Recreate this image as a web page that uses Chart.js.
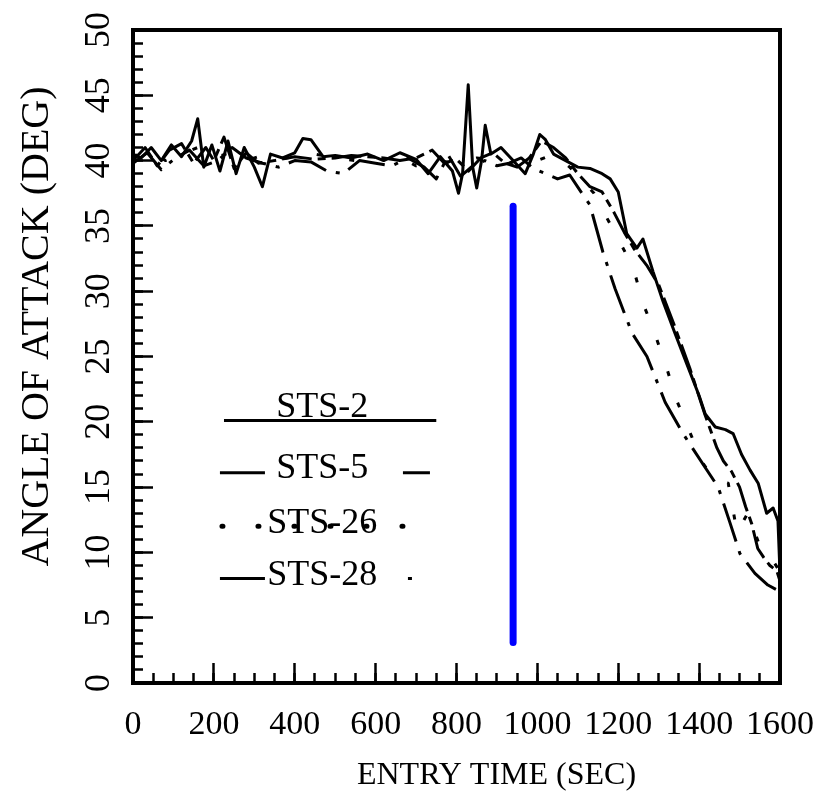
<!DOCTYPE html>
<html>
<head>
<meta charset="utf-8">
<title>Angle of attack vs entry time</title>
<script src="https://cdn.jsdelivr.net/npm/chart.js@4.4.1/dist/chart.umd.min.js"></script>
<style>
  html, body { margin: 0; padding: 0; background: #fff; }
  canvas { display: block; }
</style>
</head>
<body>
<canvas id="aoaChart" width="835" height="811"></canvas>
<script>
const seriesNames = ["STS-2", "STS-5", "STS-26", "STS-28"];

// values (sec, deg)
const sts2Time = [0, 20, 45, 70, 95, 120, 145, 160, 175, 195, 215, 235, 255, 275, 300, 320, 340, 370, 400, 420, 440, 470, 500, 540, 580, 620, 660, 700, 730, 760, 790, 805, 815, 829, 840, 850, 862, 871, 885, 910, 940, 970, 990, 1006, 1020, 1040, 1070, 1100, 1130, 1160, 1180, 1200, 1221, 1246, 1261, 1286, 1311, 1340, 1370, 1400, 1415, 1440, 1465, 1484, 1505, 1526, 1546, 1567, 1583, 1595, 1600];
const sts2Aoa = [40.5, 40.2, 41.0, 40.0, 41.2, 40.3, 41.5, 43.2, 39.5, 41.2, 39.2, 41.5, 39.0, 41.0, 39.5, 38.0, 40.5, 40.2, 40.6, 41.7, 41.6, 40.3, 40.4, 40.2, 40.5, 40.0, 40.6, 40.1, 39.0, 40.3, 39.2, 37.5, 39.0, 45.8, 39.5, 37.9, 40.0, 42.7, 40.5, 41.0, 40.0, 39.0, 40.5, 42.0, 41.6, 40.5, 40.0, 39.5, 39.4, 39.0, 38.6, 37.6, 34.4, 33.3, 34.0, 31.5, 29.2, 26.8, 24.4, 22.0, 20.6, 19.6, 19.4, 19.1, 17.5, 16.3, 15.3, 13.0, 13.4, 12.4, 8.4];

const sts5Time = [0, 30, 60, 90, 120, 150, 180, 200, 225, 250, 280, 310, 350, 400, 450, 500, 540, 580, 620, 660, 700, 740, 770, 800, 830, 860, 890, 920, 950, 980, 1010, 1040, 1070, 1100, 1130, 1160, 1190, 1215, 1240, 1270, 1300, 1336, 1377, 1415, 1444, 1460, 1480, 1500, 1515, 1530, 1545, 1560, 1575, 1592, 1600];
const sts5Aoa = [40.0, 41.0, 39.6, 40.8, 41.3, 39.8, 41.0, 40.0, 41.8, 39.4, 40.6, 39.8, 40.0, 40.3, 40.1, 40.2, 40.4, 40.3, 40.2, 40.0, 40.2, 40.8, 39.8, 40.1, 39.2, 40.2, 40.6, 39.8, 39.5, 40.2, 41.5, 41.0, 40.2, 39.0, 38.0, 37.6, 36.0, 34.5, 33.2, 32.0, 30.5, 27.6, 24.1, 20.5, 18.0, 17.0, 16.2, 15.0, 13.5, 12.2, 10.3, 9.6, 9.0, 8.6, 7.8];

const sts26Time = [0, 40, 80, 120, 160, 200, 240, 280, 320, 360, 400, 450, 500, 550, 600, 650, 700, 750, 800, 850, 900, 950, 1000, 1040, 1080, 1110, 1140, 1172, 1200, 1237, 1261, 1291, 1320, 1345, 1377, 1410, 1440, 1472, 1494, 1520, 1550, 1580, 1600];
const sts26Aoa = [40.3, 40.8, 40.0, 40.5, 41.0, 40.2, 40.6, 40.0, 40.4, 40.1, 40.3, 40.5, 40.2, 40.0, 39.9, 40.4, 39.6, 40.0, 39.8, 40.2, 40.0, 39.6, 40.0, 40.5, 39.5, 38.5, 37.5, 35.6, 34.0, 31.8, 29.1, 26.7, 24.1, 21.6, 19.2, 16.8, 15.5, 15.3, 11.5, 13.0, 10.5, 9.5, 8.5];

const sts28Time = [0, 35, 70, 105, 140, 175, 210, 245, 280, 320, 360, 400, 440, 480, 520, 560, 600, 640, 680, 720, 750, 780, 810, 840, 870, 900, 930, 960, 990, 1020, 1050, 1080, 1110, 1130, 1162, 1192, 1234, 1271, 1316, 1360, 1415, 1447, 1476, 1501, 1538, 1570, 1600];
const sts28Aoa = [39.8, 40.6, 39.3, 40.2, 40.8, 39.6, 40.0, 41.0, 40.2, 39.8, 39.5, 40.0, 39.9, 39.2, 39.0, 40.0, 39.8, 39.6, 40.2, 39.5, 38.6, 40.4, 38.8, 39.6, 40.0, 39.6, 39.8, 40.2, 39.4, 39.0, 38.6, 38.9, 37.5, 36.6, 33.0, 30.2, 26.8, 25.0, 21.5, 19.1, 16.5, 15.0, 12.3, 9.9, 8.4, 7.5, 7.0];

// blue vertical marker
const markerTime = [940, 940];
const markerAoa = [3.1, 36.5];

const xTickValues = [0, 200, 400, 600, 800, 1000, 1200, 1400, 1600];
const yTickValues = [0, 5, 10, 15, 20, 25, 30, 35, 40, 45, 50];

const serif = "'Liberation Serif', 'DejaVu Serif', serif";

function toPoints(times, values) {
  return times.map((t, i) => ({ x: t, y: values[i] }));
}

function lineSet(label, times, values, dash) {
  return {
    label,
    data: toPoints(times, values),
    borderColor: "#000",
    borderWidth: 3,
    borderDash: dash,
    borderJoinStyle: "round",
    pointRadius: 0,
    tension: 0,
  };
}

// legend rows: position in data units and the sample style
const legendRows = [
  { aoa: 20.1, from: 225, to: 750, dash: [], cap: "butt", textDy: -3 },
  { aoa: 16.1, from: 215, to: 740, dash: [45, 138, 27, 1000], cap: "butt", textDy: 5 },
  { aoa: 12.0, from: 220, to: 740, dash: [1, 35], cap: "round", textDy: 7 },
  { aoa: 8.0, from: 215, to: 740, dash: [45, 143, 4, 1000], cap: "butt", textDy: 6 },
];

const paperPlugin = {
  id: "paper",
  afterDatasetsDraw(chart) {
    const { ctx, chartArea: a, scales } = chart;
    ctx.save();
    // frame around the plot
    ctx.strokeStyle = "#000";
    ctx.lineWidth = 4;
    ctx.strokeRect(a.left, a.top, a.right - a.left, a.bottom - a.top);

    // legend inside the plot
    const xText = scales.x.getPixelForValue(468);
    ctx.font = `36px ${serif}`;
    ctx.textAlign = "center";
    ctx.textBaseline = "alphabetic";
    ctx.fillStyle = "#000";
    legendRows.forEach((row, i) => {
      const y = scales.y.getPixelForValue(row.aoa);
      ctx.setLineDash(row.dash);
      ctx.lineCap = row.cap;
      ctx.lineWidth = row.cap === "round" ? 5 : 3;
      ctx.beginPath();
      ctx.moveTo(scales.x.getPixelForValue(row.from), y);
      ctx.lineTo(scales.x.getPixelForValue(row.to), y);
      ctx.stroke();
      ctx.setLineDash([]);
      ctx.fillText(seriesNames[i], xText, y + row.textDy);
    });
    ctx.restore();
  },
};

const tickGrid = (len) => ({
  display: true,
  drawOnChartArea: false,
  drawTicks: true,
  tickLength: len,
  tickColor: "#000",
  tickWidth: 2.5,
});

// keep the plot box where it is on the paper: no extra label overhang
function fixWidth(w) {
  return (s) => { s.width = w; s.paddingTop = 0; s.paddingBottom = 0; };
}
function fixHeight(h) {
  return (s) => { s.height = h; s.paddingLeft = 0; s.paddingRight = 0; };
}

new Chart(document.getElementById("aoaChart"), {
  type: "line",
  data: {
    datasets: [
      lineSet(seriesNames[0], sts2Time, sts2Aoa, []),
      lineSet(seriesNames[1], sts5Time, sts5Aoa, [30, 6, 8, 6]),
      lineSet(seriesNames[2], sts26Time, sts26Aoa, [5, 28]),
      lineSet(seriesNames[3], sts28Time, sts28Aoa, [40, 10, 4, 10]),
      {
        label: "marker",
        data: toPoints(markerTime, markerAoa),
        borderColor: "#0000ff",
        borderWidth: 7,
        borderCapStyle: "round",
        pointRadius: 0,
      },
    ],
  },
  options: {
    responsive: false,
    animation: false,
    layout: { padding: { top: 30, right: 55, left: 0, bottom: 0 } },
    plugins: { legend: { display: false }, tooltip: { enabled: false } },
    scales: {
      x: {
        type: "linear",
        position: "bottom",
        weight: 1,
        min: 0,
        max: 1600,
        afterBuildTicks: (s) => { s.ticks = xTickValues.map((v) => ({ value: v })); },
        afterFit: fixHeight(128),
        border: { display: false },
        grid: tickGrid(-20),
        ticks: {
          autoSkip: false,
          maxRotation: 0,
          padding: 42,
          color: "#000",
          font: { family: serif, size: 34 },
          callback: (v) => String(v),
        },
        title: {
          display: true,
          // leading spaces push the title right, as on the original
          text: "          ENTRY TIME (SEC)",
          color: "#000",
          font: { family: serif, size: 32, lineHeight: 1 },
          padding: { top: 0, bottom: 19 },
        },
      },
      xMinor: {
        type: "linear",
        position: "bottom",
        weight: 0,
        min: 0,
        max: 1600,
        ticks: { display: false, stepSize: 50 },
        afterFit: fixHeight(0),
        border: { display: false },
        grid: tickGrid(-10),
      },
      y: {
        type: "linear",
        position: "left",
        weight: 1,
        min: 0,
        max: 50,
        afterBuildTicks: (s) => { s.ticks = yTickValues.map((v) => ({ value: v })); },
        afterFit: fixWidth(133),
        border: { display: false },
        grid: tickGrid(-20),
        ticks: {
          minRotation: 90,
          maxRotation: 90,
          crossAlign: "center",
          padding: 35,
          color: "#000",
          font: { family: serif, size: 36 },
          callback: (v) => String(v),
        },
        title: {
          display: true,
          // leading spaces push the title up
          text: "      ANGLE OF ATTACK (DEG)",
          color: "#000",
          font: { family: serif, size: 40, lineHeight: 1 },
          padding: { top: 17, bottom: 0 },
        },
      },
      yMinor: {
        type: "linear",
        position: "left",
        weight: 0,
        min: 0,
        max: 50,
        ticks: { display: false, stepSize: 1 },
        afterFit: fixWidth(0),
        border: { display: false },
        grid: tickGrid(-10),
      },
    },
  },
  plugins: [paperPlugin],
});
</script>
</body>
</html>
